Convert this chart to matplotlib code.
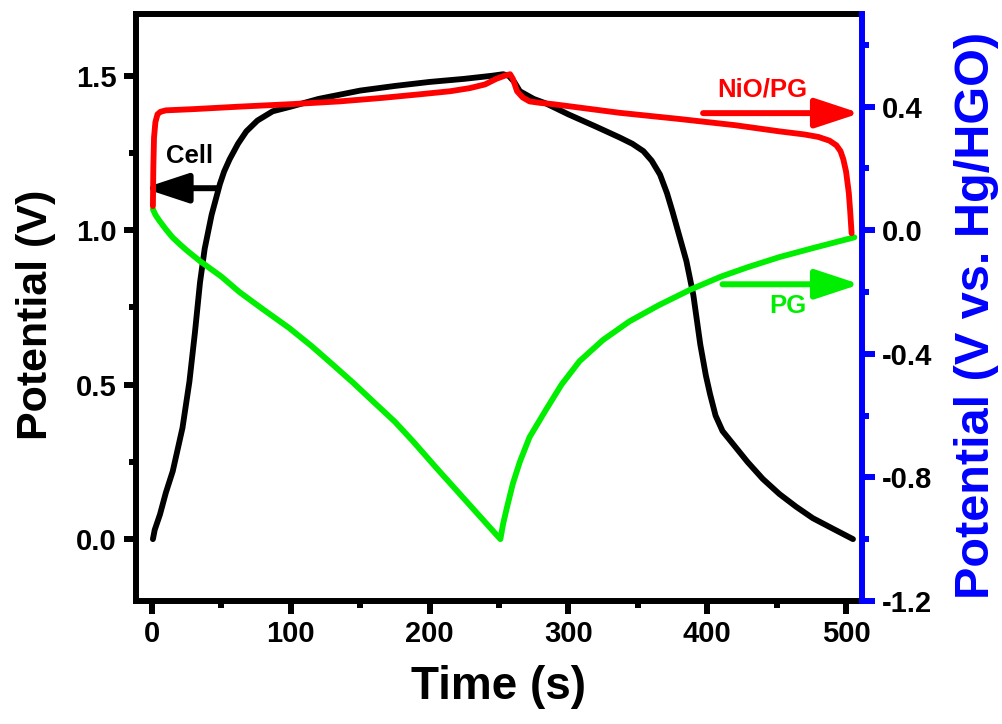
import matplotlib
matplotlib.use('Agg')
import matplotlib.pyplot as plt
from matplotlib.ticker import MultipleLocator, FormatStrFormatter

plt.rcParams['font.family'] = ['Liberation Sans', 'DejaVu Sans']
plt.rcParams['font.weight'] = 'bold'

# Cell voltage (left axis, V)
t_cell = [0.7, 2, 5.8, 10, 15, 22, 27, 31, 34.6, 38, 43, 49, 52, 56, 62, 68, 76, 87,
          100, 120, 150, 175, 200, 225, 245, 253, 257, 261, 265, 275, 284, 300, 320,
          337, 346, 354, 360, 366, 371, 375, 380, 385, 390, 395, 399, 402, 406, 411,
          420, 429, 440, 452, 464, 476, 490, 505]
v_cell = [0.0, 0.03, 0.08, 0.15, 0.22, 0.36, 0.51, 0.67, 0.83, 0.94, 1.05, 1.15, 1.19,
          1.23, 1.28, 1.32, 1.355, 1.385, 1.40, 1.425, 1.452, 1.467, 1.48, 1.49, 1.50,
          1.505, 1.50, 1.48, 1.45, 1.425, 1.41, 1.375, 1.335, 1.30, 1.28, 1.256, 1.225,
          1.18, 1.12, 1.06, 0.98, 0.90, 0.79, 0.63, 0.53, 0.47, 0.40, 0.35, 0.30, 0.25,
          0.195, 0.146, 0.105, 0.068, 0.035, 0.0]

# NiO/PG electrode (right axis, V vs. Hg/HgO)
t_nio = [0.7, 1.0, 1.5, 2.5, 4, 6, 10, 30, 63, 100, 135, 165, 193, 215, 229, 240, 248,
         254, 258, 260, 263, 267, 272, 280, 289, 337, 380, 420, 452, 470, 480, 488,
         493, 496, 498, 500, 502, 503, 504]
v_nio = [0.078, 0.2, 0.3, 0.35, 0.375, 0.383, 0.388, 0.392, 0.40, 0.408, 0.417, 0.428,
         0.44, 0.45, 0.46, 0.472, 0.49, 0.50, 0.505, 0.49, 0.45, 0.43, 0.417, 0.412,
         0.408, 0.38, 0.36, 0.34, 0.32, 0.31, 0.302, 0.29, 0.275, 0.256, 0.23, 0.19,
         0.12, 0.06, -0.01]

# PG electrode (right axis, V vs. Hg/HgO)
t_pg = [0.7, 2.5, 5, 10, 15, 20, 25, 34.6, 50, 63, 80, 99, 115, 130, 145, 159, 175,
        188, 205, 220, 235, 251, 253, 255.6, 260, 265, 272, 284, 295, 308, 325, 344,
        365, 388, 410, 429, 452, 476, 506]
v_pg = [0.068, 0.05, 0.033, 0.003, -0.024, -0.045, -0.065, -0.10, -0.15, -0.20,
        -0.256, -0.317, -0.375, -0.434, -0.494, -0.553, -0.62, -0.683, -0.77, -0.845,
        -0.92, -1.0, -0.95, -0.90, -0.82, -0.75, -0.67, -0.58, -0.50, -0.424, -0.355,
        -0.295, -0.243, -0.192, -0.150, -0.120, -0.087, -0.058, -0.023]

fig = plt.figure(figsize=(10.02, 7.24), dpi=100)
ax = fig.add_axes([0.1357, 0.170, 0.7246, 0.8107])
ax2 = ax.twinx()

line_kw = dict(lw=4.2, solid_capstyle='round', solid_joinstyle='round')
ax.plot(t_cell, v_cell, color='black', zorder=3, **line_kw)
ax2.plot(t_pg, v_pg, color='#00ee00', zorder=3, **line_kw)
ax2.plot(t_nio, v_nio, color='#ff0000', zorder=4, **line_kw)

ax.set_xlim(-11.5, 511.5)
ax.set_ylim(-0.2, 1.7)
ax2.set_ylim(-1.2, 0.7)

ax.xaxis.set_major_locator(MultipleLocator(100))
ax.xaxis.set_minor_locator(MultipleLocator(50))
ax.yaxis.set_major_locator(MultipleLocator(0.5))
ax.yaxis.set_minor_locator(MultipleLocator(0.25))
ax2.yaxis.set_major_locator(MultipleLocator(0.4))
ax2.yaxis.set_minor_locator(MultipleLocator(0.2))
ax.yaxis.set_major_formatter(FormatStrFormatter('%.1f'))
ax2.yaxis.set_major_formatter(FormatStrFormatter('%.1f'))

for sp in ['left', 'bottom', 'top']:
    ax.spines[sp].set_linewidth(4.3)
ax.spines['right'].set_visible(False)
for sp in ['left', 'bottom', 'top']:
    ax2.spines[sp].set_visible(False)
ax2.spines['right'].set_linewidth(4.3)
ax2.spines['right'].set_color('blue')

ax.tick_params(axis='both', which='major', direction='out', length=9, width=4.3,
               labelsize=21, pad=5)
ax.tick_params(axis='both', which='minor', direction='out', length=5, width=4.3)
ax.tick_params(top=False, which='both')
ax2.tick_params(axis='y', which='major', direction='out', length=9, width=4.3,
                colors='blue', labelcolor='black', labelsize=21, pad=5)
ax2.tick_params(axis='y', which='minor', direction='out', length=5, width=4.3,
                colors='blue')

ax.set_xlabel('Time (s)', fontsize=33, fontweight='bold', labelpad=12)
ax.set_ylabel('Potential (V)', fontsize=31, fontweight='bold')
ax.yaxis.set_label_coords(-0.110, 0.487)
ax2.set_ylabel('Potential (V vs. Hg/HGO)', fontsize=35, fontweight='bold',
               color='blue')
ax2.yaxis.set_label_coords(1.126, 0.487)

arrow_kw = dict(arrowstyle='-|>,head_length=1.0,head_width=0.33', lw=4.3,
                shrinkA=0, shrinkB=0, mutation_scale=27)
ax.annotate('', xy=(-6, 1.136), xytext=(47.5, 1.136),
            arrowprops=dict(color='black', **arrow_kw), annotation_clip=False)
ax.text(27, 1.24, 'Cell', fontsize=18.5, fontweight='bold', ha='center', va='center')
ax2.annotate('', xy=(510, 0.379), xytext=(397, 0.379),
             arrowprops=dict(color='#ff0000', **arrow_kw), annotation_clip=False)
ax2.text(439.5, 0.456, 'NiO/PG', fontsize=18.5, fontweight='bold', color='#ff0000',
         ha='center', va='center')
ax2.annotate('', xy=(510, -0.175), xytext=(411, -0.175),
             arrowprops=dict(color='#00ee00', **arrow_kw), annotation_clip=False)
ax2.text(458, -0.246, 'PG', fontsize=18.5, fontweight='bold', color='#00ee00',
         ha='center', va='center')

fig.savefig('out.png', dpi=100)
